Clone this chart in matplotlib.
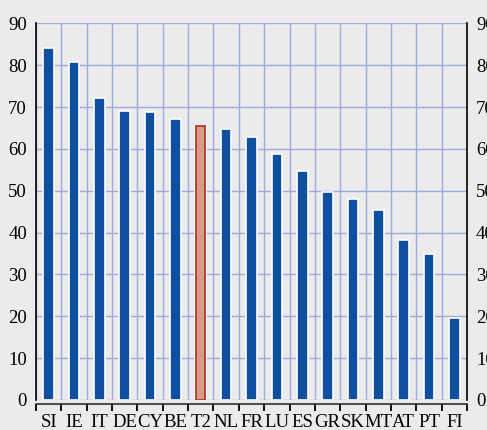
import matplotlib.pyplot as plt
import numpy as np

countries = ["SI", "IE", "IT", "DE", "CY", "BE", "T2", "NL", "FR",
             "LU", "ES", "GR", "SK", "MT", "AT", "PT", "FI"]
values = [84.0, 80.8, 72.1, 69.0, 68.7, 67.2, 65.5, 64.7, 62.9,
          58.7, 54.8, 49.7, 48.0, 45.5, 38.2, 34.9, 19.5]
yticks = [0, 10, 20, 30, 40, 50, 60, 70, 80, 90]

plt.rcParams['font.family'] = ['Liberation Serif', 'DejaVu Serif']

bg = '#ebebeb'
blue = '#0e4f9f'
grid = '#a0a8dc'

fig = plt.figure(figsize=(4.87, 4.30), dpi=100, facecolor=bg)
ax = fig.add_axes([36/487, 1-400/430, (467-36)/487, (400-23.3)/430])
ax.set_facecolor(bg)

x = np.arange(len(countries))
cols = [blue if c != "T2" else '#d99a88' for c in countries]
ax.bar(x, values, width=0.42, color=cols, edgecolor='white', linewidth=1.2, zorder=3)
i = countries.index("T2")
ax.bar(x[i], values[i], width=0.34, color='#d99a88', edgecolor='#b03a2e',
       linewidth=1.3, zorder=4)

ax.set_xlim(-0.5, len(countries) - 0.5)
ax.set_ylim(0, 90)
ax.set_yticks(yticks)
ax.set_xticks(np.arange(-0.5, len(countries)), minor=True)
ax.set_xticks(x)
ax.set_xticklabels(countries)

ax.grid(True, which='major', axis='y', color=grid, linewidth=1, zorder=1)
ax.grid(True, which='minor', axis='x', color=grid, linewidth=1, zorder=1)

ax.tick_params(axis='x', which='major', length=0, pad=7, labelsize=13.5)
ax.tick_params(axis='x', which='minor', length=5, width=1.3, color='black', direction='out')
ax.tick_params(axis='y', length=0, pad=6.5, labelsize=13.5, labelright=True,
               right=False)

ax.spines['top'].set_visible(False)
ax.spines['left'].set_color('black')
ax.spines['right'].set_color('black')
ax.spines['left'].set_linewidth(1.2)
ax.spines['right'].set_linewidth(1.2)
ax.spines['bottom'].set_position(('outward', 3))
ax.spines['bottom'].set_color('#333333')
ax.spines['bottom'].set_linewidth(1.2)

fig.savefig('out.png', dpi=100, facecolor=bg)
